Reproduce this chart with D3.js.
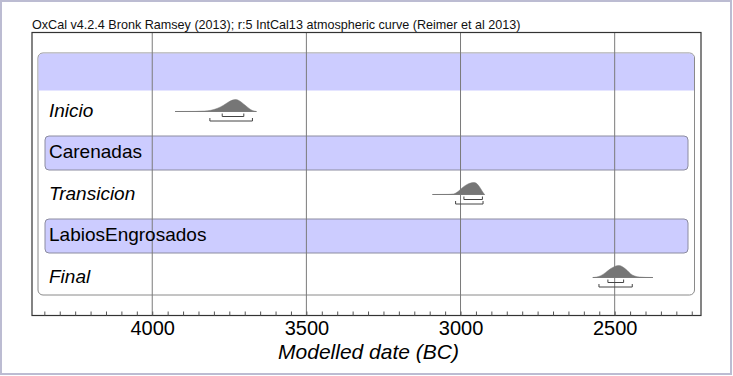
<!DOCTYPE html>
<html lang="en">
<head>
<meta charset="utf-8" />
<title>OxCal sequence plot</title>
<script src="https://cdn.jsdelivr.net/npm/d3@7/dist/d3.min.js"></script>
<style>
  body { margin: 0; background: #fff; }
  text { font-family: "Liberation Sans", Arial, sans-serif; }
</style>
</head>
<body>
<svg width="733" height="376"></svg>
<script>
// rows of the sequence, top to bottom ("" is the unnamed sequence header)
var rowNames = ["", "Inicio", "Carenadas", "Transicion", "LabiosEngrosados", "Final"];
var rowKinds = ["header", "dist", "phase", "dist", "phase", "dist"];

// modelled probability curves, [year BC, relative density]
var inicioDensity = [[3926,0],[3860,0.01],[3830,0.04],[3810,0.1],[3790,0.25],[3770,0.5],[3755,0.75],[3740,0.95],[3730,1],[3718,0.9],[3705,0.65],[3692,0.38],[3680,0.15],[3670,0.04],[3662,0]];
var transicionDensity = [[3091,0],[3040,0.01],[3022,0.05],[3008,0.25],[2995,0.55],[2980,0.82],[2965,0.97],[2955,1],[2945,0.85],[2935,0.5],[2928,0.2],[2922,0]];
var finalDensity = [[2571,0],[2558,0.04],[2545,0.15],[2530,0.4],[2515,0.7],[2500,0.92],[2487,1],[2475,0.9],[2460,0.6],[2448,0.3],[2435,0.12],[2420,0.04],[2400,0.01],[2376,0]];

// highest posterior density ranges: 68.2% then 95.4%
var inicioRanges = [[3773,3703],[3813,3675]];
var transicionRanges = [[2989,2929],[3016,2927]];
var finalRanges = [[2522,2471],[2551,2443]];

var densities = { "Inicio": inicioDensity, "Transicion": transicionDensity, "Final": finalDensity };
var ranges = { "Inicio": inicioRanges, "Transicion": transicionRanges, "Final": finalRanges };

var majorTicks = [4000, 3500, 3000, 2500];
var minorTicks = d3.range(4350, 2200, -50);

var titleText = "OxCal v4.2.4 Bronk Ramsey (2013); r:5 IntCal13 atmospheric curve (Reimer et al 2013)";
var axisTitle = "Modelled date (BC)";

var svg = d3.select("svg");

// faint frame round the whole picture
svg.append("rect")
    .attr("x", 1).attr("y", 1).attr("width", 730).attr("height", 373)
    .attr("fill", "none").attr("stroke", "#bcbcd2").attr("stroke-width", 2);

var plotLeft = 32, plotRight = 701, plotTop = 32.5, plotBottom = 315.5;

var x = d3.scaleLinear().domain([4390, 2220]).range([plotLeft, plotRight]);
var y = d3.scaleBand().domain(rowNames.map(function (d, i) { return i; })).range([53, 302]);

svg.append("text")
    .attr("x", plotLeft).attr("y", 28.5)
    .attr("font-size", 12.6)
    .attr("fill", "#111")
    .text(titleText);

// sequence box
svg.append("rect")
    .attr("x", 38).attr("y", 53).attr("width", 656.5).attr("height", 242)
    .attr("rx", 5).attr("ry", 5)
    .attr("fill", "#fff").attr("stroke", "#8a8a8a").attr("stroke-width", 1);

// header band with rounded top corners only
var hx0 = 38.5, hx1 = 694, hy0 = 53.5, hy1 = y(0) + 37.5, r = 5;
svg.append("path")
    .attr("d", "M" + hx0 + "," + hy1 + " V" + (hy0 + r) + " Q" + hx0 + "," + hy0 + " " + (hx0 + r) + "," + hy0 +
        " H" + (hx1 - r) + " Q" + hx1 + "," + hy0 + " " + hx1 + "," + (hy0 + r) + " V" + hy1 + " Z")
    .attr("fill", "#ccccff");

rowNames.forEach(function (name, i) {
    var t = y(i);
    if (rowKinds[i] === "phase") {
        svg.append("rect")
            .attr("x", 45).attr("y", t).attr("width", 643).attr("height", 34)
            .attr("rx", 4).attr("ry", 4)
            .attr("fill", "#ccccff").attr("stroke", "#8c8ca0").attr("stroke-width", 1);
    }
});

// vertical grid at the labelled dates
svg.append("g").selectAll("line")
    .data(majorTicks).enter().append("line")
    .attr("x1", function (d) { return x(d); }).attr("x2", function (d) { return x(d); })
    .attr("y1", plotTop).attr("y2", plotBottom)
    .attr("stroke", "#7a7a7a").attr("stroke-width", 1);

var area = d3.area()
    .curve(d3.curveMonotoneX)
    .x(function (d) { return x(d[0]); });

rowNames.forEach(function (name, i) {
    var t = y(i);
    if (rowKinds[i] !== "header") {
        svg.append("text")
            .attr("x", 49).attr("y", t + 22)
            .attr("font-size", 19)
            .attr("font-style", rowKinds[i] === "dist" ? "italic" : "normal")
            .attr("fill", "#000")
            .text(name);
    }
    if (rowKinds[i] !== "dist") return;
    var base = t + 17;
    var dens = densities[name];
    area.y0(base).y1(function (d) { return base - d[1] * 12; });
    svg.append("line")
        .attr("x1", x(dens[0][0])).attr("x2", x(dens[dens.length - 1][0]))
        .attr("y1", base).attr("y2", base)
        .attr("stroke", "#8a8a8a").attr("stroke-width", 1);
    svg.append("path").datum(dens)
        .attr("d", area)
        .attr("fill", "#767676").attr("stroke", "#767676").attr("stroke-width", 0.5);
    ranges[name].forEach(function (rg, k) {
        var by = base + (k === 0 ? 5 : 9.5);
        svg.append("path")
            .attr("d", "M" + x(rg[0]) + "," + (by - 3) + " V" + by + " H" + x(rg[1]) + " V" + (by - 3))
            .attr("fill", "none").attr("stroke", "#444").attr("stroke-width", 1);
    });
});

// plot frame
svg.append("rect")
    .attr("x", plotLeft).attr("y", plotTop).attr("width", plotRight - plotLeft).attr("height", plotBottom - plotTop)
    .attr("fill", "none").attr("stroke", "#333").attr("stroke-width", 1.2);

var minorAxis = svg.append("g")
    .attr("transform", "translate(0," + plotBottom + ")")
    .call(d3.axisBottom(x).tickValues(minorTicks).tickSize(-4).tickFormat(""));
minorAxis.select(".domain").remove();
minorAxis.selectAll("line").attr("stroke", "#555");

var majorAxis = svg.append("g")
    .attr("transform", "translate(0," + plotBottom + ")")
    .call(d3.axisBottom(x).tickValues(majorTicks).tickSize(0).tickPadding(2).tickFormat(d3.format("d")));
majorAxis.select(".domain").remove();
majorAxis.selectAll("text")
    .attr("font-family", "Liberation Sans, Arial, sans-serif")
    .attr("font-size", 20)
    .attr("fill", "#000")
    .attr("dy", "0.85em");

svg.append("text")
    .attr("x", (plotLeft + plotRight) / 2 + 2).attr("y", 359)
    .attr("text-anchor", "middle")
    .attr("font-size", 21)
    .attr("font-style", "italic")
    .attr("fill", "#000")
    .text(axisTitle);
</script>
</body>
</html>
